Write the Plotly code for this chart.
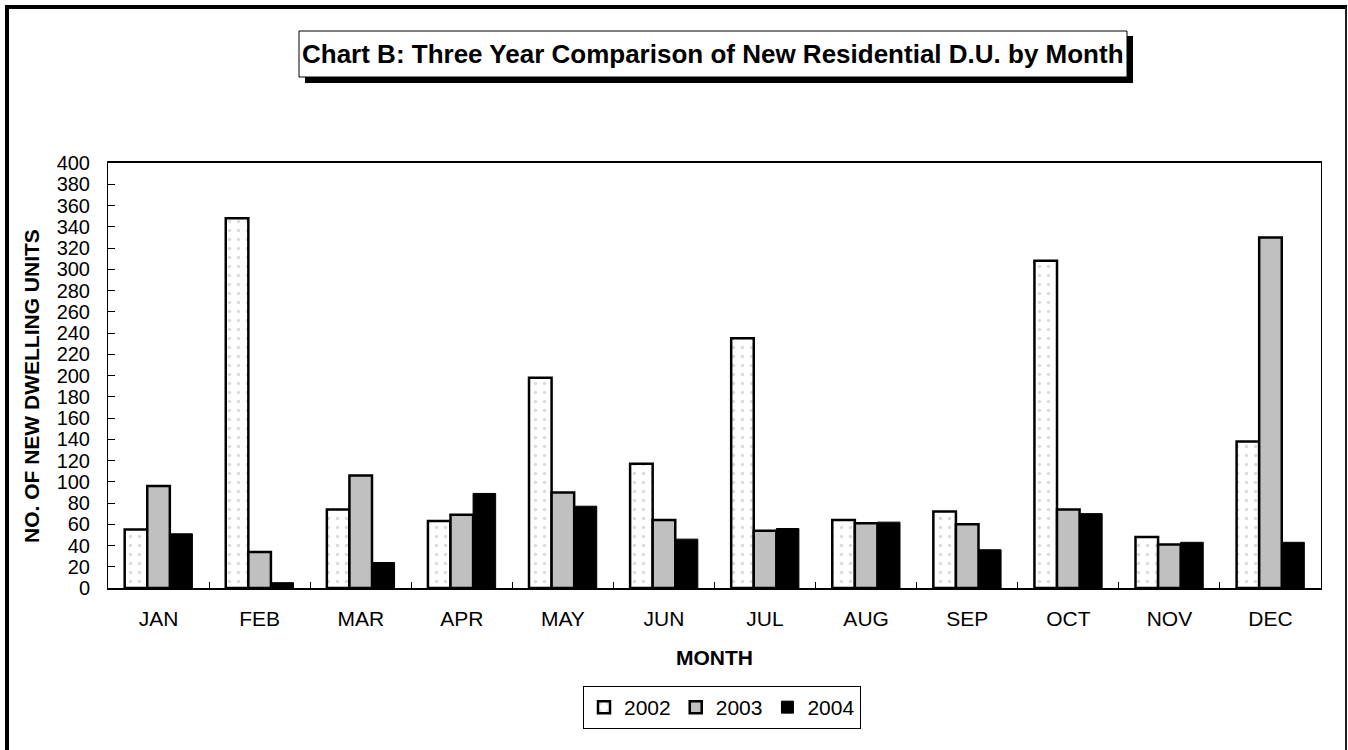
import plotly.graph_objects as go

months = ["JAN", "FEB", "MAR", "APR", "MAY", "JUN", "JUL", "AUG", "SEP", "OCT", "NOV", "DEC"]
series_names = ["2002", "2003", "2004"]
vals_2002 = [55, 348, 74, 63, 198, 117, 235, 64, 72, 308, 48, 138]
vals_2003 = [96, 34, 106, 69, 90, 64, 54, 61, 60, 74, 41, 330]
vals_2004 = [51, 5, 24, 89, 77, 46, 56, 62, 36, 70, 43, 43]
y_ticks = list(range(0, 401, 20))

title_text = "Chart B: Three Year Comparison of New Residential D.U. by Month"
y_title = "NO. OF NEW DWELLING UNITS"
x_title = "MONTH"
FONT = "Arial, 'Liberation Sans', sans-serif"

W, H = 1348, 750
L, R, T, B = 108, 1321, 163, 588  # plot area pixel edges


def px(xp):
    return (xp - L) / (R - L)


def py(yp):
    return (B - yp) / (B - T)


fig = go.Figure()
fig.add_trace(go.Bar(
    name=series_names[0], x=months, y=vals_2002,
    marker=dict(color="white", line=dict(color="black", width=2.5),
                pattern=dict(shape=".", fgcolor="#b8b8b8", bgcolor="white", size=9, solidity=0.12)),
))
fig.add_trace(go.Bar(
    name=series_names[1], x=months, y=vals_2003,
    marker=dict(color="#c0c0c0", line=dict(color="black", width=2.5)),
))
fig.add_trace(go.Bar(
    name=series_names[2], x=months, y=vals_2004,
    marker=dict(color="black", line=dict(color="black", width=1)),
))

shapes = [
    # outer frame
    dict(type="line", xref="paper", yref="paper", x0=px(7), x1=px(7), y0=py(5), y1=py(760),
         line=dict(color="black", width=4)),
    dict(type="line", xref="paper", yref="paper", x0=px(5), x1=px(1347), y0=py(7), y1=py(7),
         line=dict(color="black", width=4)),
    dict(type="line", xref="paper", yref="paper", x0=px(1346), x1=px(1346), y0=py(7), y1=py(760),
         line=dict(color="#202020", width=2)),
    # title shadow and box
    dict(type="rect", xref="paper", yref="paper", x0=px(305), x1=px(1133), y0=py(36), y1=py(83),
         fillcolor="black", line=dict(width=0)),
    dict(type="rect", xref="paper", yref="paper", x0=px(299), x1=px(1127), y0=py(31), y1=py(77),
         fillcolor="white", line=dict(color="black", width=1)),
]

annotations = [
    dict(text="<b>" + title_text + "</b>", xref="paper", yref="paper", x=px(713), y=py(54),
         xanchor="center", yanchor="middle", showarrow=False,
         font=dict(family=FONT, size=26, color="black")),
    dict(text="<b>" + y_title + "</b>", xref="paper", yref="paper", x=px(31), y=py(386),
         xanchor="center", yanchor="middle", showarrow=False, textangle=-90,
         font=dict(family=FONT, size=21, color="black")),
    dict(text="<b>" + x_title + "</b>", xref="paper", yref="paper", x=px(714), y=py(657),
         xanchor="center", yanchor="middle", showarrow=False,
         font=dict(family=FONT, size=21, color="black")),
]

fig.update_layout(
    width=W, height=H,
    margin=dict(l=L, r=W - R, t=T, b=H - B, pad=0),
    paper_bgcolor="white", plot_bgcolor="white",
    barmode="group", bargap=0.33, bargroupgap=0,
    font=dict(family=FONT, size=21, color="black"),
    shapes=shapes, annotations=annotations,
    showlegend=True,
    legend=dict(orientation="h", x=px(722), xanchor="center", y=py(686), yanchor="top",
                bordercolor="black", borderwidth=1, font=dict(size=21),
                itemwidth=30, traceorder="normal", bgcolor="white"),
    xaxis=dict(
        showline=True, linecolor="black", linewidth=2, mirror=True,
        ticks="inside", tickson="boundaries", ticklen=6, tickcolor="black",
        ticklabelstandoff=11, showgrid=False, zeroline=False,
        tickfont=dict(size=21),
    ),
    yaxis=dict(
        range=[0, 400], tickvals=y_ticks, showline=True, linecolor="black", linewidth=1,
        mirror=True, ticks="inside", ticklen=7, tickcolor="black", ticklabelstandoff=13,
        showgrid=False, zeroline=False, tickfont=dict(size=20),
    ),
)

fig.write_html("out.html", config={"displayModeBar": False},
               post_script="document.body.style.margin='0';")
